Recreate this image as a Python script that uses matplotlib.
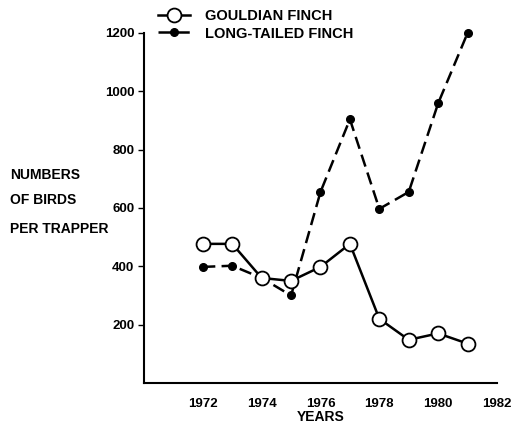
import matplotlib
matplotlib.use("Agg")
import matplotlib.pyplot as plt

plt.rcParams["font.family"] = ["Liberation Sans", "DejaVu Sans"]

# data
years = [1972, 1973, 1974, 1975, 1976, 1977, 1978, 1979, 1980, 1981]
gouldian = [477, 477, 360, 350, 398, 477, 220, 148, 170, 135]
long_tailed = [398, 402, 360, 300, 655, 904, 597, 655, 959, 1200]
x_ticks = [1972, 1974, 1976, 1978, 1980, 1982]
y_ticks = [200, 400, 600, 800, 1000, 1200]

fig = plt.figure(figsize=(5.13, 4.23), dpi=100)
ax = fig.add_axes([0.2807, 0.0946, 0.6881, 0.8274])

ax.plot(years, long_tailed, color="black", lw=1.8, ls=(0, (5, 2.5)),
        marker="o", ms=5.5, mfc="black", mec="black", label="LONG-TAILED FINCH",
        zorder=2, clip_on=False)
ax.plot(years, gouldian, color="black", lw=1.8, ls="-",
        marker="o", ms=10, mfc="white", mec="black", mew=1.3, label="GOULDIAN FINCH",
        zorder=3, clip_on=False)

ax.set_xlim(1970, 1982)
ax.set_ylim(0, 1200)
ax.set_xticks(x_ticks)
ax.set_yticks(y_ticks)
ax.spines["top"].set_visible(False)
ax.spines["right"].set_visible(False)
ax.spines["left"].set_linewidth(1.5)
ax.spines["bottom"].set_linewidth(1.5)
ax.tick_params(axis="y", direction="out", length=4, width=1, labelsize=9.5, pad=3)
ax.tick_params(axis="x", direction="out", length=0, labelsize=9.5, pad=11)
for lbl in ax.get_xticklabels() + ax.get_yticklabels():
    lbl.set_fontweight("bold")

ax.set_xlabel("YEARS", fontsize=10, fontweight="bold", labelpad=0)

fig.text(0.02, 0.587, "NUMBERS", fontsize=10, fontweight="bold", va="center")
fig.text(0.02, 0.527, "OF BIRDS", fontsize=10, fontweight="bold", va="center")
fig.text(0.02, 0.459, "PER TRAPPER", fontsize=10, fontweight="bold", va="center")

handles, labels = ax.get_legend_handles_labels()
ax.legend(handles[::-1], labels[::-1], loc="upper left", bbox_to_anchor=(0.283, 1.01),
          bbox_transform=fig.transFigure, frameon=False,
          prop={"weight": "bold", "size": 10.5}, handlelength=2.2, handletextpad=1.0,
          labelspacing=0.25)

fig.savefig("out.png", dpi=100)
